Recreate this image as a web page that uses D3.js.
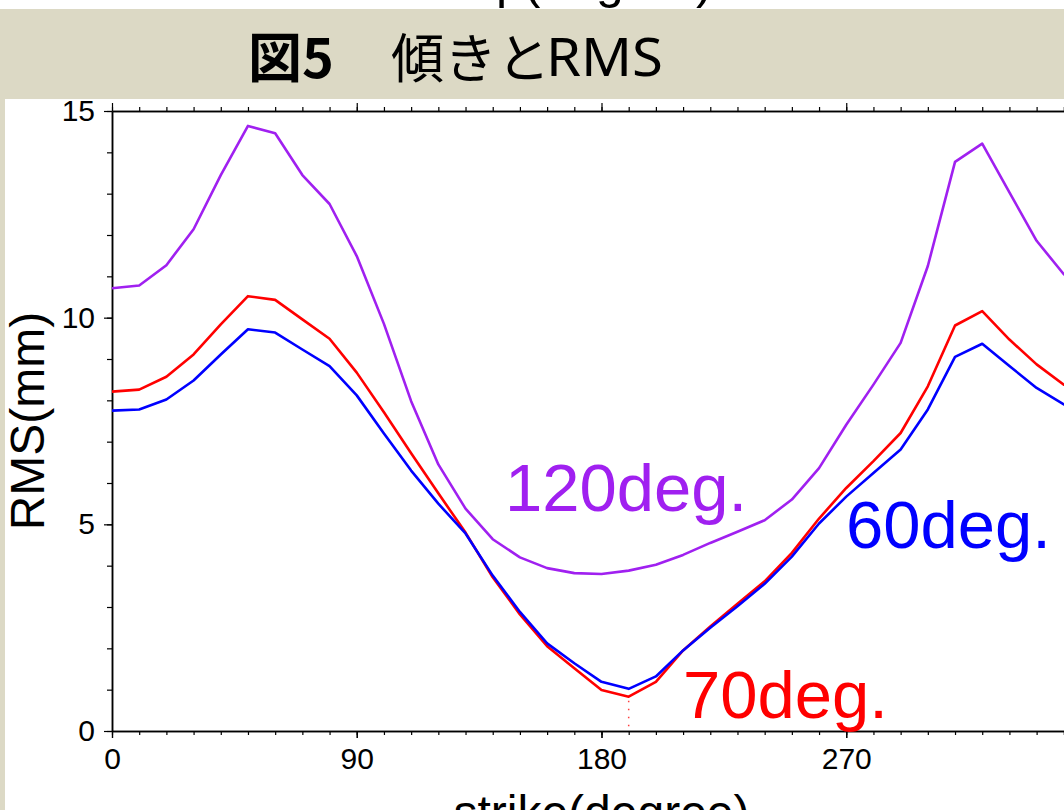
<!DOCTYPE html>
<html>
<head>
<meta charset="utf-8">
<script src="https://cdn.jsdelivr.net/npm/d3@7"></script>
<style>
  body { margin: 0; background: #fff; overflow: hidden; }
  text { font-family: "Liberation Sans", Arial, sans-serif; }
</style>
</head>
<body>
<div id="graph"></div>
<script>
// strike angle (degree)
const strikes = [0, 10, 20, 30, 40, 50, 60, 70, 80, 90, 100, 110, 120, 130, 140, 150, 160, 170, 180,
    190, 200, 210, 220, 230, 240, 250, 260, 270, 280, 290, 300, 310, 320, 330, 340, 350, 360];

// RMS (mm) per dip
const rms120 = [10.71, 10.78, 11.27, 12.14, 13.45, 14.64, 14.46, 13.45, 12.75, 11.49, 9.85, 7.98, 6.45,
    5.38, 4.64, 4.20, 3.94, 3.82, 3.80, 3.88, 4.02, 4.26, 4.55, 4.82, 5.10, 5.60, 6.36, 7.41, 8.38,
    9.39, 11.25, 13.77, 14.21, 13.03, 11.86, 11.05, 10.71];
const rms70 = [8.21, 8.26, 8.57, 9.11, 9.84, 10.52, 10.43, 9.96, 9.49, 8.67, 7.71, 6.72, 5.75, 4.80,
    3.72, 2.82, 2.05, 1.52, 0.99, 0.83, 1.19, 1.95, 2.53, 3.08, 3.62, 4.31, 5.14, 5.88, 6.53, 7.21,
    8.34, 9.81, 10.16, 9.47, 8.87, 8.38, 8.21];
const rms60 = [7.75, 7.78, 8.02, 8.48, 9.11, 9.72, 9.64, 9.23, 8.83, 8.12, 7.20, 6.30, 5.50, 4.78,
    3.76, 2.88, 2.12, 1.64, 1.19, 1.02, 1.32, 1.95, 2.50, 3.02, 3.56, 4.22, 5.02, 5.67, 6.24, 6.81,
    7.78, 9.05, 9.37, 8.83, 8.30, 7.90, 7.75];

const xMajor = [0, 90, 180, 270, 360];
const xLabels = [0, 90, 180, 270];
const yMajor = [0, 5, 10, 15];
const minStrike = 190;

var margin = { top: 111, left: 112 },
    width = 979,   // 0..360 degree, runs past the right edge of the page
    height = 620;

const svg = d3.select("#graph")
    .append("svg")
    .attr("width", 1064)
    .attr("height", 810);

// header band with title (previous slide's axis title peeks out on top)
svg.append("text")
    .attr("x", 457)
    .attr("y", -2)
    .style("font-size", "50px")
    .text("dip(degree)");
svg.append("rect")
    .attr("x", 0).attr("y", 9)
    .attr("width", 1064).attr("height", 90)
    .attr("fill", "#dcd9c5");
svg.append("rect")
    .attr("x", 0).attr("y", 99)
    .attr("width", 5).attr("height", 711)
    .attr("fill", "#dcd9c5");
svg.append("text")
    .attr("x", 248).attr("y", 78)
    .style("font-family", "'Noto Sans CJK JP'")
    .style("font-size", "54px")
    .style("font-weight", "bold")
    .text("図5");
svg.append("text")
    .attr("x", 391).attr("y", 78)
    .style("font-family", "'Noto Sans CJK JP'")
    .style("font-size", "53px")
    .text("傾きと");
svg.append("text")
    .attr("x", 546).attr("y", 76)
    .attr("textLength", 117)
    .attr("lengthAdjust", "spacingAndGlyphs")
    .style("font-family", "'Noto Sans'")
    .style("font-size", "52px")
    .text("RMS");

const g = svg.append("g")
    .attr("transform", `translate(${margin.left},${margin.top})`);

// scales
const x = d3.scaleLinear().domain([0, 360]).range([0, width]);
const y = d3.scaleLinear().domain([0, 15]).range([height, 0]);

// axes: minor ticks first, major ticks with labels on top
const minorX = d3.range(0, 361, 10);
const minorY = d3.range(0, 16, 1);

function styleAxis(sel) {
    sel.select(".domain").attr("stroke-width", 1.5);
    sel.selectAll(".tick line").attr("stroke-width", 1.2);
}

g.append("g").attr("transform", `translate(0,${height})`)
    .call(d3.axisBottom(x).tickValues(minorX).tickSize(4).tickSizeOuter(0).tickFormat(""))
    .call(styleAxis);
g.append("g").attr("transform", `translate(0,${height})`)
    .call(d3.axisBottom(x).tickValues(xMajor).tickSize(7).tickSizeOuter(0).tickFormat(""))
    .call(styleAxis);
g.append("g").attr("transform", `translate(0,${height})`)
    .call(d3.axisBottom(x).tickValues(xLabels).tickSize(7).tickSizeOuter(0).tickPadding(10))
    .call(styleAxis)
    .call(a => a.select(".domain").remove())
    .call(a => a.selectAll("text").style("font-size", "30px").style("font-family", "'Liberation Sans'").attr("fill", "#000"));

g.append("g")
    .call(d3.axisTop(x).tickValues(minorX).tickSize(4).tickSizeOuter(0).tickFormat(""))
    .call(styleAxis);
g.append("g")
    .call(d3.axisTop(x).tickValues(xMajor).tickSize(8).tickSizeOuter(0).tickFormat(""))
    .call(styleAxis);

g.append("g")
    .call(d3.axisLeft(y).tickValues(minorY).tickSize(5).tickSizeOuter(0).tickFormat(""))
    .call(styleAxis);
g.append("g")
    .call(d3.axisLeft(y).tickValues(yMajor).tickSize(8).tickSizeOuter(0).tickPadding(9))
    .call(styleAxis)
    .call(a => a.selectAll("text").style("font-size", "30px").style("font-family", "'Liberation Sans'").attr("fill", "#000"));

// axis titles
g.append("text")
    .attr("transform", `translate(${-68},${height / 2}) rotate(-90)`)
    .attr("text-anchor", "middle")
    .style("font-size", "48px")
    .text("RMS(mm)");
g.append("text")
    .attr("x", x(180))
    .attr("y", height + 98)
    .attr("text-anchor", "middle")
    .style("font-size", "48px")
    .text("strike(degree)");

// curves
const series = [
    { name: "120deg.", values: rms120, color: "#a020f0", lx: 393, ly: 400 },
    { name: "70deg.", values: rms70, color: "#ff0000", lx: 571, ly: 607 },
    { name: "60deg.", values: rms60, color: "#0000ff", lx: 734, ly: 437 }
];

const line = d3.line()
    .x((d, i) => x(strikes[i]))
    .y(d => y(d));

g.selectAll(".curve")
    .data(series)
    .join("path")
    .attr("class", "curve")
    .attr("fill", "none")
    .attr("stroke", d => d.color)
    .attr("stroke-width", 2.6)
    .attr("stroke-linejoin", "round")
    .attr("d", d => line(d.values));

// marker at the minimum of the 70deg curve
const iMin = strikes.indexOf(minStrike);
g.append("line")
    .attr("x1", x(minStrike)).attr("x2", x(minStrike))
    .attr("y1", y(rms70[iMin]) + 4).attr("y2", y(0))
    .attr("stroke", "#ff0000")
    .attr("stroke-width", 1.5)
    .attr("stroke-dasharray", "1.5,6.5")
    .attr("opacity", 0.75);

// curve labels
g.selectAll(".lbl")
    .data(series)
    .join("text")
    .attr("class", "lbl")
    .attr("x", d => d.lx)
    .attr("y", d => d.ly)
    .attr("fill", d => d.color)
    .style("font-size", "67px")
    .text(d => d.name);
</script>
</body>
</html>
